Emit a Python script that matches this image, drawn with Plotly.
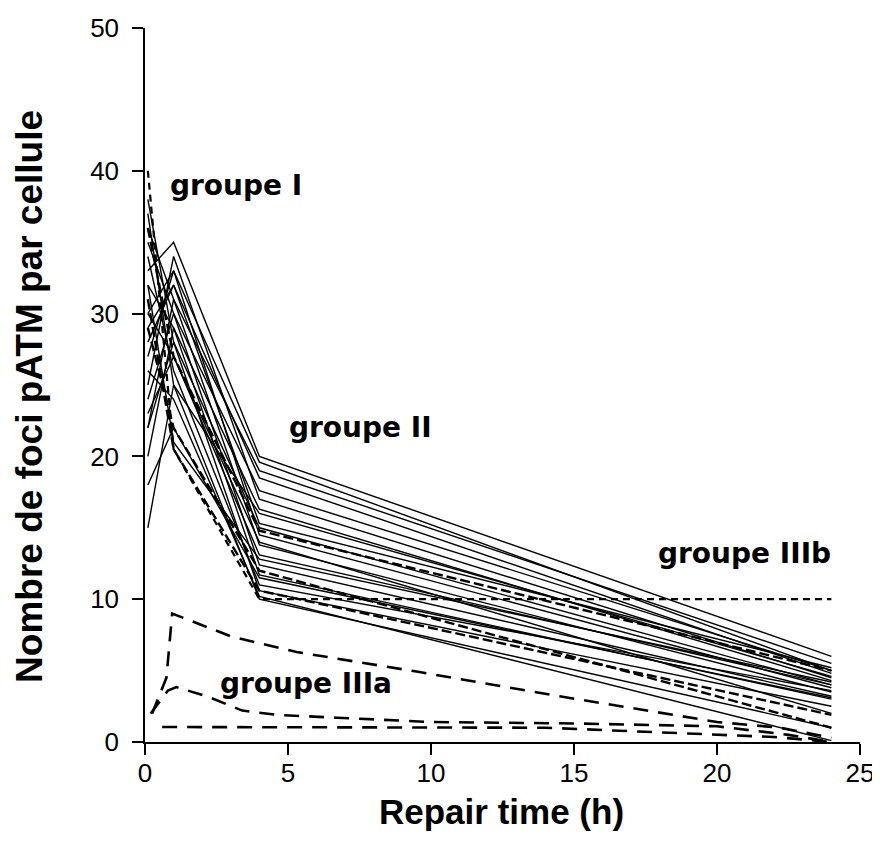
import plotly.graph_objects as go

# ---------------- data ----------------
# Group II (solid thin lines): foci per cell at 0.1 h, 1 h, 4 h, 24 h
times_ii = [0.1, 1, 4, 24]
foci_0h = [33, 30, 36, 28, 35, 25, 32, 38, 27, 22, 30, 24, 20, 34, 22, 15, 26, 18, 32, 37, 29, 23]
foci_1h = [35, 33, 31, 32, 30, 34, 29, 28, 33, 31, 27, 30, 29, 26, 28, 25, 24, 22, 21, 25, 32, 27]
foci_4h = [20, 19.6, 19.0, 18.5, 17.6, 17.0, 16.3, 15.0, 14.5, 13.8, 13.1, 12.4, 11.7, 11.0, 10.6, 10.0, 10.2, 11.5, 12.8, 16.0, 15.3, 14.0]
foci_24h = [6.0, 5.0, 5.5, 4.8, 5.0, 4.5, 4.3, 4.0, 3.8, 3.5, 4.0, 3.2, 3.0, 3.6, 2.5, 1.0, 0.1, 3.1, 4.2, 4.6, 5.2, 2.0]

# Group II lines drawn with heavy dashes
dashed_0h = [36, 31, 29]
dashed_1h = [27, 20.5, 22]
dashed_4h = [14.8, 10.6, 12.0]
dashed_24h = [5.0, 1.9, 1.0]

# Group IIIb (dotted)
times_iiib = [0.1, 1, 4, 24]
foci_iiib = [40, 20.5, 10, 10]

# Group IIIa (dashed)
times_iiia1 = [0.25, 0.75, 0.95, 3, 5.3, 9.6, 14.5, 17.8, 20, 22.2, 24]
foci_iiia1 = [2, 4.5, 9, 7.4, 6.3, 4.9, 3.2, 2.1, 1.4, 1.0, 0.3]
times_iiia2 = [0.2, 0.8, 1.1, 2.3, 3.4, 4.6, 6.7, 10, 15, 20, 22.5, 24]
foci_iiia2 = [2, 3.6, 3.85, 3.1, 2.2, 1.9, 1.7, 1.4, 1.3, 1.1, 0.5, 0]
times_iiia3 = [0.6, 14, 22, 24]
foci_iiia3 = [1.05, 1.0, 0.35, 0]

x_ticks = [0, 5, 10, 15, 20, 25]
y_ticks = [0, 10, 20, 30, 40, 50]

# ---------------- figure ----------------
fig = go.Figure()

for i in range(len(foci_0h)):
    fig.add_trace(go.Scatter(
        x=times_ii, y=[foci_0h[i], foci_1h[i], foci_4h[i], foci_24h[i]],
        mode="lines", line=dict(color="black", width=1.4), showlegend=False,
        hoverinfo="skip"))

for i in range(len(dashed_0h)):
    fig.add_trace(go.Scatter(
        x=times_ii, y=[dashed_0h[i], dashed_1h[i], dashed_4h[i], dashed_24h[i]],
        mode="lines", line=dict(color="black", width=2.4, dash="10px,4px"),
        showlegend=False, hoverinfo="skip"))

fig.add_trace(go.Scatter(
    x=times_iiib, y=foci_iiib, mode="lines",
    line=dict(color="black", width=2.2, dash="7px,5px"),
    showlegend=False, hoverinfo="skip"))

for tx, fy in [(times_iiia1, foci_iiia1), (times_iiia2, foci_iiia2), (times_iiia3, foci_iiia3)]:
    fig.add_trace(go.Scatter(
        x=tx, y=fy, mode="lines",
        line=dict(color="black", width=2.6, dash="15px,10px"),
        showlegend=False, hoverinfo="skip"))

ann_font = dict(family="DejaVu Sans", size=28, color="black")
labels = [
    ("<b>groupe I</b>", 0.8, 39.0),
    ("<b>groupe II</b>", 4.97, 22.0),
    ("<b>groupe IIIb</b>", 17.87, 13.2),
    ("<b>groupe IIIa</b>", 2.55, 4.1),
]
for txt, ax_, ay_ in labels:
    fig.add_annotation(x=ax_, y=ay_, xref="x", yref="y", text=txt, showarrow=False,
                       xanchor="left", yanchor="middle", font=ann_font)

fig.add_annotation(text="<b>Repair time (h)</b>", xref="paper", yref="paper",
                   x=0.4993, y=-0.098, xanchor="center", yanchor="middle", showarrow=False,
                   font=dict(family="Liberation Sans", size=35, color="black"))
fig.add_annotation(text="<b>Nombre de foci pATM par cellule</b>", xref="paper", yref="paper",
                   x=-0.161, y=0.4846, xanchor="center", yanchor="middle", showarrow=False,
                   textangle=-90,
                   font=dict(family="Liberation Sans", size=37, color="black"))

axis_common = dict(showgrid=False, zeroline=False, showline=True, linecolor="black",
                   linewidth=1.5, ticks="outside", ticklen=11, tickwidth=1.5, tickcolor="black",
                   automargin=False,
                   tickfont=dict(family="Liberation Sans", size=26, color="black"))

fig.update_xaxes(range=[0, 25], tickvals=x_ticks, ticktext=[str(v) for v in x_ticks],
                 ticklabelstandoff=-4, **axis_common)
fig.update_yaxes(range=[0, 50], tickvals=y_ticks, ticktext=[str(v) for v in y_ticks],
                 ticklabelstandoff=8, **axis_common)

# page body has an 8px default margin, so the figure is 8px smaller and shifted
fig.update_layout(width=872, height=835, margin=dict(l=137, r=20, t=20, b=101),
                  plot_bgcolor="white", paper_bgcolor="white", showlegend=False)

fig.write_html("out.html")
